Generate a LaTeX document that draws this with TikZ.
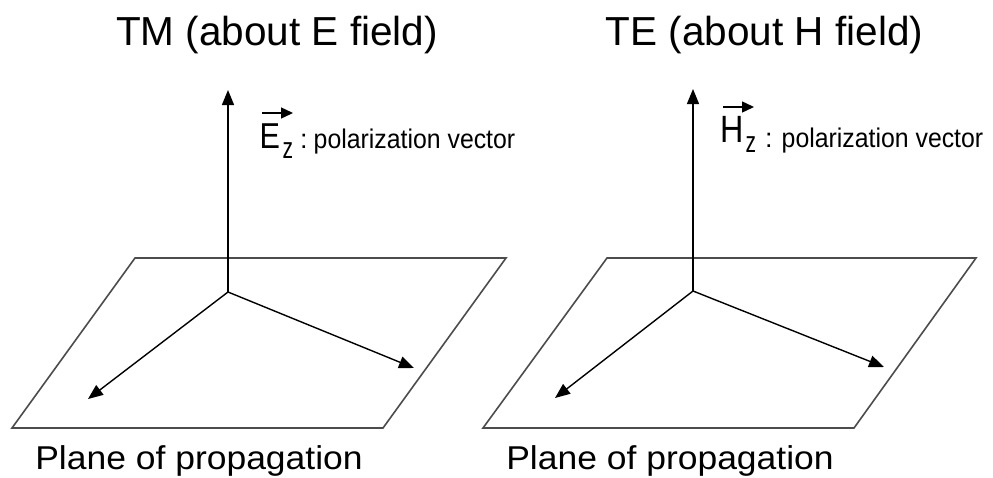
\documentclass[tikz,border=0pt]{standalone}
\usepackage{fontspec}
\usepackage{graphicx}
\setmainfont{Liberation Sans}
\usetikzlibrary{arrows.meta}
\tikzset{
  plane/.style={draw=black!70, line width=1.6pt, line join=miter},
  vecline/.style={draw=black, line width=1.4pt, -{Triangle[length=15pt,width=12pt]}},
  overarrow/.style={draw=black, line width=1.4pt, -{Triangle[length=12pt,width=11pt]}},
  title/.style={inner sep=0pt, anchor=base, font=\fontsize{40.5}{48}\selectfont},
  bigletter/.style={inner sep=0pt, anchor=base west},
  subz/.style={inner sep=0pt, anchor=base west, font=\fontsize{30}{34}\selectfont},
  small/.style={inner sep=0pt, anchor=base west, font=\fontsize{27}{32}\selectfont},
  caption/.style={inner sep=0pt, anchor=base, font=\fontsize{33}{38}\selectfont}
}
\begin{document}
\begin{tikzpicture}[x=1pt, y=-1pt]
\useasboundingbox (0,0) rectangle (993,477);

% ---- left (TM) ----
\node[title] (tm) at (277,45) {TM (about E field)};
\coordinate (la) at (135,258);
\coordinate (lb) at (506,258);
\coordinate (lc) at (383,428);
\coordinate (ld) at (12,428);
\draw[plane] (la) -- (lb) -- (lc) -- (ld) -- cycle;
\coordinate (lo) at (228,292);
\coordinate (lup) at (228,90);
\coordinate (lleft) at (88,399);
\coordinate (lright) at (414,368);
\draw[vecline] (lo) -- (lup);
\draw[vecline] (lo) -- (lleft);
\draw[vecline] (lo) -- (lright);
\node[bigletter, font=\fontsize{36}{40}\selectfont] (E) at (259.5,148) {\scalebox{0.85}[1]{E}};
\node[subz] (Ez) at (282.5,158) {\scalebox{0.7}[1]{z}};
\node[small] (Ecol) at (300,148) {:};
\node[small] (Etxt) at (313.5,148) {\scalebox{0.92}[1]{polarization vector}};
\coordinate (Ea) at (262,113);
\coordinate (Eb) at (293,113);
\draw[overarrow] (Ea) -- (Eb);
\node[caption] (lcap) at (199,469) {\scalebox{1.075}[1]{Plane of propagation}};

% ---- right (TE) ----
\node[title] (te) at (764.5,45) {TE (about H field)};
\coordinate (ra) at (607,258);
\coordinate (rb) at (976,258);
\coordinate (rc) at (854,428);
\coordinate (rd) at (483,428);
\draw[plane] (ra) -- (rb) -- (rc) -- (rd) -- cycle;
\coordinate (ro) at (693,291);
\coordinate (rup) at (693,89);
\coordinate (rleft) at (555,398);
\coordinate (rright) at (884,367);
\draw[vecline] (ro) -- (rup);
\draw[vecline] (ro) -- (rleft);
\draw[vecline] (ro) -- (rright);
\node[bigletter, font=\fontsize{38}{44}\selectfont] (H) at (720.5,142) {\scalebox{0.85}[1]{H}};
\node[subz] (Hz) at (745.5,152) {\scalebox{0.7}[1]{z}};
\node[small] (Hcol) at (765,147) {:};
\node[small] (Htxt) at (781.5,147) {\scalebox{0.92}[1]{polarization vector}};
\coordinate (Ha) at (723,107);
\coordinate (Hb) at (754,107);
\draw[overarrow] (Ha) -- (Hb);
\node[caption] (rcap) at (670,469) {\scalebox{1.075}[1]{Plane of propagation}};
\end{tikzpicture}
\end{document}
